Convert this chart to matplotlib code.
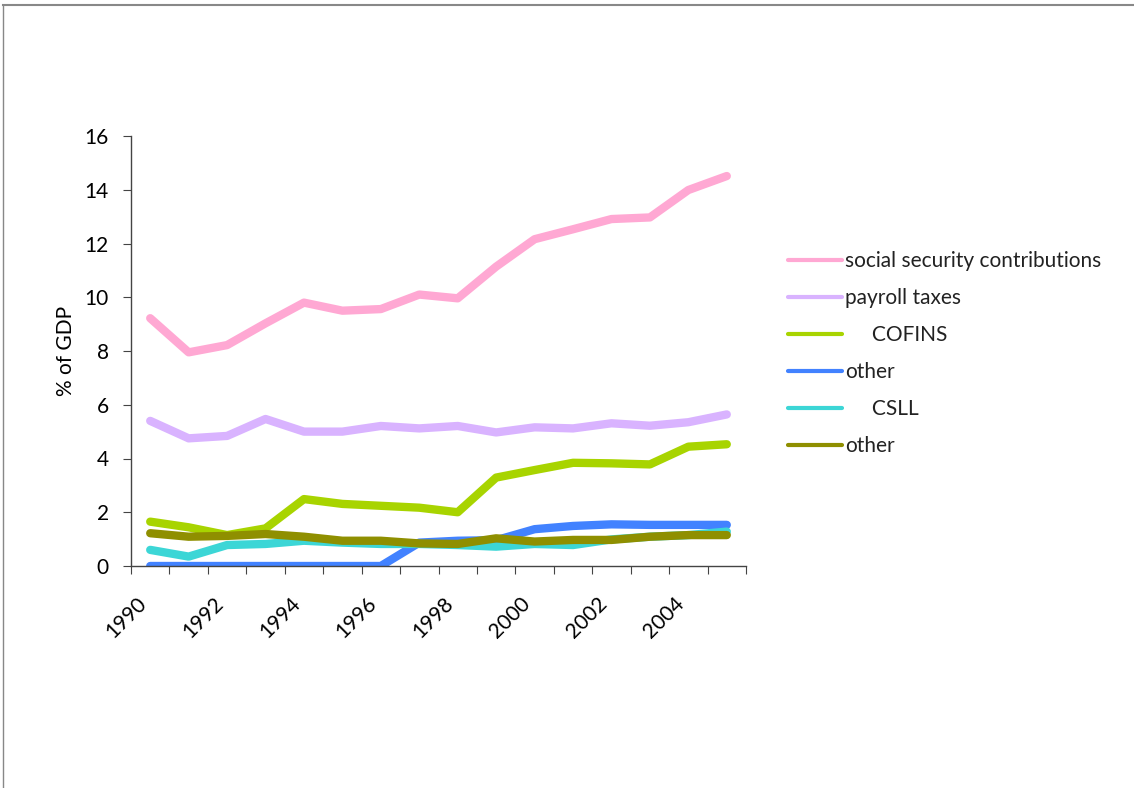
import numpy as np
import matplotlib
matplotlib.use('Agg')
import matplotlib.pyplot as plt
from matplotlib.lines import Line2D

plt.rcParams['font.family'] = ['Lato', 'DejaVu Sans']
plt.rcParams['text.color'] = '#222222'

years = list(range(1990, 2006))
tick_years = [str(y) for y in range(1990, 2005, 2)]

social_security = [9.22, 7.95, 8.22, 9.03, 9.80, 9.50, 9.56, 10.10, 9.96, 11.14,
                   12.16, 12.53, 12.91, 12.97, 13.99, 14.51]
payroll = [5.40, 4.75, 4.84, 5.47, 5.00, 5.00, 5.21, 5.12, 5.21, 4.97,
           5.16, 5.12, 5.31, 5.22, 5.35, 5.64]
cofins = [1.65, 1.44, 1.15, 1.40, 2.49, 2.31, 2.24, 2.17, 2.00, 3.29,
          3.57, 3.84, 3.82, 3.78, 4.44, 4.53]
other_1 = [0.0, 0.0, 0.0, 0.0, 0.0, 0.0, 0.0, 0.87, 0.94, 0.96,
           1.37, 1.49, 1.55, 1.53, 1.53, 1.53]
csll = [0.60, 0.35, 0.78, 0.82, 0.94, 0.87, 0.82, 0.82, 0.78, 0.72,
        0.82, 0.78, 0.99, 1.09, 1.15, 1.28]
other_2 = [1.22, 1.09, 1.12, 1.19, 1.09, 0.94, 0.94, 0.84, 0.82, 1.03,
           0.91, 0.97, 0.97, 1.09, 1.15, 1.15]

series = [
    (social_security, '#FFA8D3', 'social security contributions'),
    (payroll, '#D9B3FF', 'payroll taxes'),
    (cofins, '#A8D400', '     COFINS'),
    (other_1, '#4282FF', 'other'),
    (csll, '#3CD6D6', '     CSLL'),
    (other_2, '#8F8F00', 'other'),
]

fig = plt.figure(figsize=(11.34, 7.88), dpi=100)
ax = fig.add_axes([131/1134, 1 - 566/788, (746 - 131)/1134, (566 - 136)/788])

x = np.arange(len(years))
for vals, col, lab in series:
    ax.plot(x, vals, color=col, linewidth=6, label=lab, solid_capstyle='round',
            solid_joinstyle='round')

ax.set_xlim(-0.5, len(years) - 0.5)
ax.set_ylim(0, 16)
ax.set_yticks(np.arange(0, 17, 2))
ax.set_xticks(np.arange(-0.5, len(years), 1))
ax.set_xticklabels([])
ax.set_xticks(np.arange(0, 15, 2), minor=True)
ax.set_xticklabels(tick_years, minor=True, rotation=45, ha='right', fontsize=15)
ax.tick_params(axis='x', which='minor', length=0, pad=20)
ax.tick_params(axis='x', which='major', length=6, direction='out', color='#444444')
ax.tick_params(axis='y', length=6, direction='out', labelsize=15, color='#444444', pad=10)

for s in ['top', 'right']:
    ax.spines[s].set_visible(False)
for s in ['left', 'bottom']:
    ax.spines[s].set_color('#444444')
    ax.spines[s].set_linewidth(1)

ax.set_ylabel('% of GDP', fontsize=15, labelpad=6)

leg = ax.legend(loc='upper left', bbox_to_anchor=(788/1134, 1 - 251/788),
                bbox_transform=fig.transFigure, frameon=False, fontsize=15,
                handlelength=2.6, handletextpad=0.15, labelspacing=0.82,
                borderaxespad=0, borderpad=0)
for ln in leg.get_lines():
    ln.set_linewidth(3)

# slide frame
fig.add_artist(Line2D([3/1134, 1], [1 - 5/788, 1 - 5/788], transform=fig.transFigure,
                      color='#888888', linewidth=1.5))
fig.add_artist(Line2D([3/1134, 3/1134], [0, 1 - 5/788], transform=fig.transFigure,
                      color='#888888', linewidth=1))

fig.savefig('out.png', dpi=100)
